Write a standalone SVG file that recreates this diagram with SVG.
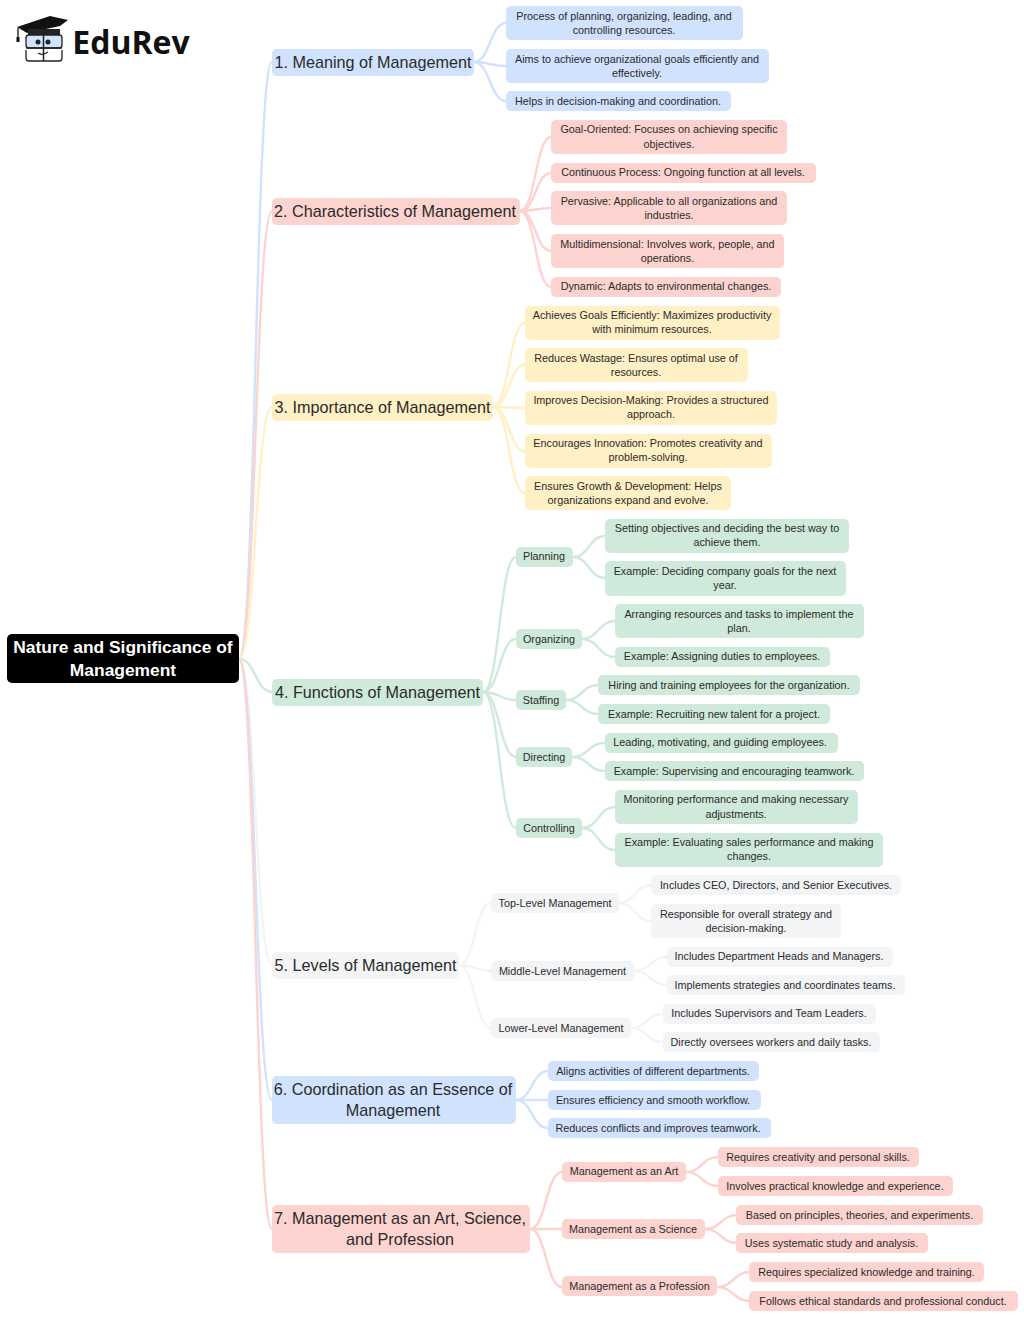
<svg xmlns="http://www.w3.org/2000/svg" width="1024" height="1317" viewBox="0 0 1024 1317">
<style>
text{font-family:"Liberation Sans",Arial,sans-serif;text-anchor:middle;fill:#2b2b2b}
.s{font-size:10.8px}
.m{font-size:16.2px}
.r{font-size:17.4px;font-weight:bold;fill:#fff}
.blue rect{fill:#d0e2fd}.red rect{fill:#fcd3ce}.yel rect{fill:#fff0c5}.grn rect{fill:#cfeada}.gry rect{fill:#f2f4f6}
path.e{fill:none;stroke-width:2.4}
.eb{stroke:#d0e2fd}.er{stroke:#fcd3ce}.ey{stroke:#fff0c5}.eg{stroke:#cfeada}.ea{stroke:#f2f4f6}
</style>
<rect width="1024" height="1317" fill="#fff"/>
<g id="connectors">
<path class="e eb" d="M239 659C255.500 659 255.500 62 272 62"/>
<path class="e er" d="M239 659C255.500 659 255.500 211 272 211"/>
<path class="e ey" d="M239 659C255.500 659 255.500 407 272 407"/>
<path class="e eg" d="M239 659C255.500 659 255.500 692 272 692"/>
<path class="e ea" d="M239 659C255.500 659 255.500 965 272 965"/>
<path class="e eb" d="M239 659C255.500 659 255.500 1100 272 1100"/>
<path class="e er" d="M239 659C255.500 659 255.500 1229 272 1229"/>
<path class="e eb" d="M474 62C490 62 490 23 506 23"/>
<path class="e eb" d="M474 62C490 62 490 66 506 66"/>
<path class="e eb" d="M474 62C490 62 490 101 506 101"/>
<path class="e er" d="M520 211C535.500 211 535.500 137 551 137"/>
<path class="e er" d="M520 211C535.500 211 535.500 173 551 173"/>
<path class="e er" d="M520 211C535.500 211 535.500 208 551 208"/>
<path class="e er" d="M520 211C535.500 211 535.500 251 551 251"/>
<path class="e er" d="M520 211C535.500 211 535.500 287 551 287"/>
<path class="e ey" d="M493 407C509 407 509 323 525 323"/>
<path class="e ey" d="M493 407C509 407 509 365 525 365"/>
<path class="e ey" d="M493 407C509 407 509 408 525 408"/>
<path class="e ey" d="M493 407C509 407 509 451 525 451"/>
<path class="e ey" d="M493 407C509 407 509 493 525 493"/>
<path class="e eg" d="M483 692C499.500 692 499.500 557 516 557"/>
<path class="e eg" d="M483 692C499.500 692 499.500 639 516 639"/>
<path class="e eg" d="M483 692C499.500 692 499.500 700 516 700"/>
<path class="e eg" d="M483 692C499.500 692 499.500 757 516 757"/>
<path class="e eg" d="M483 692C499.500 692 499.500 828 516 828"/>
<path class="e eg" d="M573 557C589 557 589 536 605 536"/>
<path class="e eg" d="M573 557C589 557 589 578 605 578"/>
<path class="e eg" d="M582 639C598.500 639 598.500 621 615 621"/>
<path class="e eg" d="M582 639C598.500 639 598.500 657 615 657"/>
<path class="e eg" d="M566 700C582 700 582 685 598 685"/>
<path class="e eg" d="M566 700C582 700 582 714 598 714"/>
<path class="e eg" d="M572 757C588.500 757 588.500 743 605 743"/>
<path class="e eg" d="M572 757C588.500 757 588.500 771 605 771"/>
<path class="e eg" d="M582 828C598.500 828 598.500 807 615 807"/>
<path class="e eg" d="M582 828C598.500 828 598.500 850 615 850"/>
<path class="e ea" d="M459 965C475 965 475 903 491 903"/>
<path class="e ea" d="M459 965C475 965 475 971 491 971"/>
<path class="e ea" d="M459 965C475 965 475 1028 491 1028"/>
<path class="e ea" d="M619 903C635 903 635 885 651 885"/>
<path class="e ea" d="M619 903C635 903 635 921 651 921"/>
<path class="e ea" d="M634 971C650.500 971 650.500 957 667 957"/>
<path class="e ea" d="M634 971C650.500 971 650.500 985 667 985"/>
<path class="e ea" d="M631 1028C647 1028 647 1014 663 1014"/>
<path class="e ea" d="M631 1028C647 1028 647 1042 663 1042"/>
<path class="e eb" d="M516 1100C532 1100 532 1071 548 1071"/>
<path class="e eb" d="M516 1100C532 1100 532 1100 548 1100"/>
<path class="e eb" d="M516 1100C532 1100 532 1128 548 1128"/>
<path class="e er" d="M530 1229C546 1229 546 1172 562 1172"/>
<path class="e er" d="M530 1229C546 1229 546 1229 562 1229"/>
<path class="e er" d="M530 1229C546 1229 546 1287 562 1287"/>
<path class="e er" d="M686 1172C702 1172 702 1157 718 1157"/>
<path class="e er" d="M686 1172C702 1172 702 1186 718 1186"/>
<path class="e er" d="M705 1229C721 1229 721 1215 737 1215"/>
<path class="e er" d="M705 1229C721 1229 721 1243 737 1243"/>
<path class="e er" d="M717 1287C733.500 1287 733.500 1272 750 1272"/>
<path class="e er" d="M717 1287C733.500 1287 733.500 1301 750 1301"/>
</g>
<g id="logo">
<path d="M17 27L50 16L68 20L60 26L27 33Z" fill="#111"/>
<rect x="28" y="29" width="32" height="6" fill="#222"/>
<path d="M18 28V38" stroke="#111" stroke-width="1.300" fill="none"/>
<rect x="16.500" y="37" width="3" height="5" fill="#111"/>
<rect x="26" y="35" width="36" height="13" rx="3" fill="#cfe3fb" stroke="#222" stroke-width="1.300"/>
<path d="M26 50V58Q26 61 29 61H59Q62 61 62 58V50" fill="#fff" stroke="#222" stroke-width="1.300"/>
<path d="M26 48H62" stroke="#222" stroke-width="1.300" fill="none"/>
<path d="M43.500 30V61" stroke="#222" stroke-width="1.500" fill="none"/>
<circle cx="38" cy="42" r="2.500" fill="#222"/><circle cx="48" cy="42" r="2.500" fill="#222"/>
<path d="M38 53Q42 56 48 52" stroke="#222" stroke-width="1.200" fill="none"/>
<text x="131" y="54" style="font-family:'Open Sans',sans-serif;font-size:32px;font-weight:700;fill:#111">EduRev</text>
</g>
<g id="root"><rect x="7" y="634" width="232" height="49" rx="5" fill="#000"/><text class="r" x="123" y="653">Nature and Significance of</text><text class="r" x="123" y="676">Management</text></g>

<g id="n1" class="blue"><rect x="272" y="49" width="202" height="27" rx="5"/><text class="m" x="373" y="68">1. Meaning of Management</text></g>
<g id="n1a" class="blue"><rect x="506" y="6" width="237" height="34" rx="5"/><text class="s" x="624" y="20">Process of planning, organizing, leading, and</text><text class="s" x="624" y="34">controlling resources.</text></g>
<g id="n1b" class="blue"><rect x="506" y="49" width="263" height="34" rx="5"/><text class="s" x="637" y="63">Aims to achieve organizational goals efficiently and</text><text class="s" x="637" y="77">effectively.</text></g>
<g id="n1c" class="blue"><rect x="506" y="91" width="225" height="20" rx="5"/><text class="s" x="618" y="105">Helps in decision-making and coordination.</text></g>

<g id="n2" class="red"><rect x="272" y="198" width="248" height="27" rx="5"/><text class="m" x="395" y="217">2. Characteristics of Management</text></g>
<g id="n2a" class="red"><rect x="551" y="120" width="236" height="34" rx="5"/><text class="s" x="669" y="133">Goal-Oriented: Focuses on achieving specific</text><text class="s" x="669" y="148">objectives.</text></g>
<g id="n2b" class="red"><rect x="551" y="163" width="265" height="20" rx="5"/><text class="s" x="683" y="176">Continuous Process: Ongoing function at all levels.</text></g>
<g id="n2c" class="red"><rect x="551" y="191" width="236" height="34" rx="5"/><text class="s" x="669" y="205">Pervasive: Applicable to all organizations and</text><text class="s" x="669" y="219">industries.</text></g>
<g id="n2d" class="red"><rect x="551" y="234" width="233" height="34" rx="5"/><text class="s" x="667.500" y="248">Multidimensional: Involves work, people, and</text><text class="s" x="667.500" y="262">operations.</text></g>
<g id="n2e" class="red"><rect x="551" y="277" width="230" height="20" rx="5"/><text class="s" x="666" y="290">Dynamic: Adapts to environmental changes.</text></g>

<g id="n3" class="yel"><rect x="272" y="394" width="221" height="27" rx="5"/><text class="m" x="382.500" y="413">3. Importance of Management</text></g>
<g id="n3a" class="yel"><rect x="525" y="306" width="255" height="34" rx="5"/><text class="s" x="652" y="319">Achieves Goals Efficiently: Maximizes productivity</text><text class="s" x="652" y="333">with minimum resources.</text></g>
<g id="n3b" class="yel"><rect x="525" y="348" width="223" height="34" rx="5"/><text class="s" x="636" y="362">Reduces Wastage: Ensures optimal use of</text><text class="s" x="636" y="376">resources.</text></g>
<g id="n3c" class="yel"><rect x="525" y="391" width="252" height="34" rx="5"/><text class="s" x="651" y="404">Improves Decision-Making: Provides a structured</text><text class="s" x="651" y="418">approach.</text></g>
<g id="n3d" class="yel"><rect x="525" y="434" width="247" height="34" rx="5"/><text class="s" x="648" y="447">Encourages Innovation: Promotes creativity and</text><text class="s" x="648" y="461">problem-solving.</text></g>
<g id="n3e" class="yel"><rect x="525" y="476" width="206" height="34" rx="5"/><text class="s" x="628" y="490">Ensures Growth &amp; Development: Helps</text><text class="s" x="628" y="504">organizations expand and evolve.</text></g>

<g id="n4" class="grn"><rect x="272" y="679" width="211" height="27" rx="5"/><text class="m" x="377.500" y="698">4. Functions of Management</text></g>
<g id="n4p" class="grn"><rect x="516" y="547" width="57" height="20" rx="5"/><text class="s" x="544" y="560">Planning</text></g>
<g id="n4p1" class="grn"><rect x="605" y="519" width="244" height="34" rx="5"/><text class="s" x="727" y="532">Setting objectives and deciding the best way to</text><text class="s" x="727" y="546">achieve them.</text></g>
<g id="n4p2" class="grn"><rect x="605" y="561" width="241" height="35" rx="5"/><text class="s" x="725" y="575">Example: Deciding company goals for the next</text><text class="s" x="725" y="589">year.</text></g>
<g id="n4o" class="grn"><rect x="516" y="629" width="66" height="20" rx="5"/><text class="s" x="549" y="643">Organizing</text></g>
<g id="n4o1" class="grn"><rect x="615" y="604" width="249" height="34" rx="5"/><text class="s" x="739" y="618">Arranging resources and tasks to implement the</text><text class="s" x="739" y="632">plan.</text></g>
<g id="n4o2" class="grn"><rect x="615" y="647" width="215" height="20" rx="5"/><text class="s" x="722" y="660">Example: Assigning duties to employees.</text></g>
<g id="n4s" class="grn"><rect x="516" y="690" width="50" height="20" rx="5"/><text class="s" x="541" y="704">Staffing</text></g>
<g id="n4s1" class="grn"><rect x="598" y="675" width="262" height="20" rx="5"/><text class="s" x="729" y="689">Hiring and training employees for the organization.</text></g>
<g id="n4s2" class="grn"><rect x="598" y="704" width="232" height="20" rx="5"/><text class="s" x="714" y="718">Example: Recruiting new talent for a project.</text></g>
<g id="n4d" class="grn"><rect x="516" y="747" width="56" height="20" rx="5"/><text class="s" x="544" y="761">Directing</text></g>
<g id="n4d1" class="grn"><rect x="605" y="733" width="233" height="20" rx="5"/><text class="s" x="720" y="746">Leading, motivating, and guiding employees.</text></g>
<g id="n4d2" class="grn"><rect x="605" y="761" width="259" height="20" rx="5"/><text class="s" x="734" y="775">Example: Supervising and encouraging teamwork.</text></g>
<g id="n4c" class="grn"><rect x="516" y="818" width="66" height="20" rx="5"/><text class="s" x="549" y="832">Controlling</text></g>
<g id="n4c1" class="grn"><rect x="615" y="790" width="243" height="34" rx="5"/><text class="s" x="736" y="803">Monitoring performance and making necessary</text><text class="s" x="736" y="818">adjustments.</text></g>
<g id="n4c2" class="grn"><rect x="615" y="833" width="268" height="34" rx="5"/><text class="s" x="749" y="846">Example: Evaluating sales performance and making</text><text class="s" x="749" y="860">changes.</text></g>

<g id="n5" class="gry"><rect x="272" y="952" width="187" height="27" rx="5"/><text class="m" x="365.500" y="971">5. Levels of Management</text></g>
<g id="n5t" class="gry"><rect x="491" y="893" width="128" height="20" rx="5"/><text class="s" x="555" y="907">Top-Level Management</text></g>
<g id="n5t1" class="gry"><rect x="651" y="875" width="250" height="20" rx="5"/><text class="s" x="776" y="889">Includes CEO, Directors, and Senior Executives.</text></g>
<g id="n5t2" class="gry"><rect x="651" y="904" width="190" height="34" rx="5"/><text class="s" x="746" y="918">Responsible for overall strategy and</text><text class="s" x="746" y="932">decision-making.</text></g>
<g id="n5m" class="gry"><rect x="491" y="961" width="143" height="20" rx="5"/><text class="s" x="562.500" y="975">Middle-Level Management</text></g>
<g id="n5m1" class="gry"><rect x="667" y="947" width="226" height="20" rx="5"/><text class="s" x="779" y="960">Includes Department Heads and Managers.</text></g>
<g id="n5m2" class="gry"><rect x="667" y="975" width="238" height="20" rx="5"/><text class="s" x="785" y="989">Implements strategies and coordinates teams.</text></g>
<g id="n5l" class="gry"><rect x="491" y="1018" width="140" height="20" rx="5"/><text class="s" x="561" y="1032">Lower-Level Management</text></g>
<g id="n5l1" class="gry"><rect x="663" y="1004" width="213" height="20" rx="5"/><text class="s" x="769" y="1017">Includes Supervisors and Team Leaders.</text></g>
<g id="n5l2" class="gry"><rect x="663" y="1032" width="217" height="20" rx="5"/><text class="s" x="771" y="1046">Directly oversees workers and daily tasks.</text></g>

<g id="n6" class="blue"><rect x="272" y="1076" width="244" height="48" rx="5"/><text class="m" x="393" y="1095">6. Coordination as an Essence of</text><text class="m" x="393" y="1116">Management</text></g>
<g id="n6a" class="blue"><rect x="548" y="1061" width="211" height="20" rx="5"/><text class="s" x="653" y="1075">Aligns activities of different departments.</text></g>
<g id="n6b" class="blue"><rect x="548" y="1090" width="213" height="20" rx="5"/><text class="s" x="653" y="1104">Ensures efficiency and smooth workflow.</text></g>
<g id="n6c" class="blue"><rect x="548" y="1118" width="223" height="20" rx="5"/><text class="s" x="658" y="1132">Reduces conflicts and improves teamwork.</text></g>

<g id="n7" class="red"><rect x="272" y="1205" width="258" height="48" rx="5"/><text class="m" x="400" y="1224">7. Management as an Art, Science,</text><text class="m" x="400" y="1245">and Profession</text></g>
<g id="n7a" class="red"><rect x="562" y="1162" width="124" height="20" rx="5"/><text class="s" x="624" y="1175">Management as an Art</text></g>
<g id="n7a1" class="red"><rect x="718" y="1147" width="201" height="20" rx="5"/><text class="s" x="818" y="1161">Requires creativity and personal skills.</text></g>
<g id="n7a2" class="red"><rect x="718" y="1176" width="235" height="20" rx="5"/><text class="s" x="835" y="1190">Involves practical knowledge and experience.</text></g>
<g id="n7b" class="red"><rect x="562" y="1219" width="143" height="20" rx="5"/><text class="s" x="633" y="1233">Management as a Science</text></g>
<g id="n7b1" class="red"><rect x="736" y="1205" width="247" height="20" rx="5"/><text class="s" x="859.500" y="1219">Based on principles, theories, and experiments.</text></g>
<g id="n7b2" class="red"><rect x="736" y="1233" width="192" height="20" rx="5"/><text class="s" x="831.500" y="1247">Uses systematic study and analysis.</text></g>
<g id="n7c" class="red"><rect x="562" y="1276" width="155" height="20" rx="5"/><text class="s" x="639.500" y="1290">Management as a Profession</text></g>
<g id="n7c1" class="red"><rect x="749" y="1262" width="235" height="20" rx="5"/><text class="s" x="866.500" y="1276">Requires specialized knowledge and training.</text></g>
<g id="n7c2" class="red"><rect x="749" y="1291" width="269" height="20" rx="5"/><text class="s" x="883" y="1305">Follows ethical standards and professional conduct.</text></g>
</svg>
